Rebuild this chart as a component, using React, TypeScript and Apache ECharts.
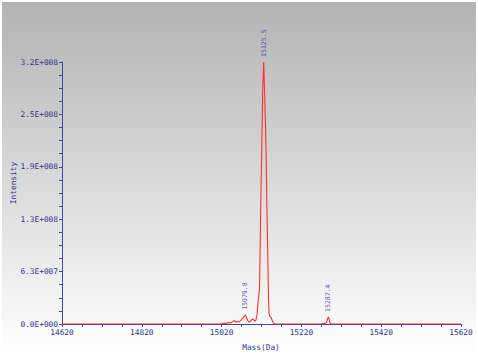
import React, { useEffect, useRef } from "react";
import * as echarts from "echarts";

// Spectrum (mass in Da, intensity in counts)
const massDa = [
  14620, 15018, 15022, 15027, 15032, 15037, 15042, 15047, 15052, 15056,
  15060, 15064, 15068, 15072, 15076, 15079.8, 15083, 15087, 15091, 15095,
  15099, 15103, 15106, 15109, 15111, 15113, 15115, 15116.5, 15118, 15120.5,
  15123, 15125.5, 15128, 15131.5, 15133, 15135.5, 15137.5, 15139, 15141, 15144,
  15147, 15150, 15153, 15268, 15274, 15280, 15283, 15285.5, 15287.4, 15289.5,
  15291.5, 15294, 15298, 15620,
];
const intensity = [
  0, 0, 0.5e6, 1.0e6, 0.6e6, 1.8e6, 1.2e6, 2.5e6, 4.2e6, 2.2e6,
  3.0e6, 2.5e6, 4.0e6, 6.5e6, 9.0e6, 11e6, 7.0e6, 3.0e6, 2.5e6, 5.0e6,
  6.0e6, 3.5e6, 4.5e6, 12e6, 24e6, 33e6, 42e6, 89e6, 140e6, 208e6,
  280e6, 315e6, 275e6, 208e6, 157e6, 89e6, 30e6, 12e6, 9.0e6, 8.0e6,
  4.0e6, 1.0e6, 0, 0, 0.4e6, 0.8e6, 2.0e6, 6.0e6, 8.5e6, 6.0e6,
  1.5e6, 0.3e6, 0, 0,
];

// Labelled peaks
const peakMass = [15079.8, 15125.5, 15287.4];
const peakIntensity = [11e6, 315e6, 8.5e6];
const peakLabels = ["15079.8", "15125.5", "15287.4"];

// Axis ticks
const xTickLabels = ["14620", "14820", "15020", "15220", "15420", "15620"];
const yTickLabels = ["0.0E+000", "6.3E+007", "1.3E+008", "1.9E+008", "2.5E+008", "3.2E+008"];

const TEXT = "#33338f";
const AXIS = "#4545a3";
const FONT = "DejaVu Sans Mono";

export default function App() {
  const ref = useRef<HTMLDivElement>(null);

  useEffect(() => {
    if (!ref.current) return;
    const chart = echarts.init(ref.current, undefined, { renderer: "svg" });
    const lineData = massDa.map((m, i) => [m, intensity[i]]);
    const peakData = peakMass.map((m, i) => ({ value: [m, peakIntensity[i]], name: peakLabels[i] }));

    chart.setOption({
      animation: false,
      backgroundColor: "#ffffff",
      graphic: [
        {
          type: "rect",
          z: -10,
          silent: true,
          shape: { x: 2, y: 2, width: 474, height: 354 },
          style: {
            fill: new echarts.graphic.LinearGradient(0, 0, 0, 1, [
              { offset: 0, color: "#b3b3b3" },
              { offset: 1, color: "#ffffff" },
            ]),
          },
        },
        {
          type: "text",
          x: 13,
          y: 183,
          rotation: Math.PI / 2,
          style: {
            text: "Intensity",
            fill: TEXT,
            font: `7.8px "${FONT}"`,
            align: "center",
            verticalAlign: "middle",
          },
        },
        {
          type: "text",
          x: 261,
          y: 347,
          style: {
            text: "Mass(Da)",
            fill: TEXT,
            font: `7.8px "${FONT}"`,
            align: "center",
            verticalAlign: "middle",
          },
        },
      ],
      grid: { left: 62, right: 17, top: 62, bottom: 36, containLabel: false },
      xAxis: {
        type: "value",
        min: 14620,
        max: 15620,
        interval: 200,
        axisLine: { show: true, lineStyle: { color: AXIS, width: 1 } },
        axisTick: { show: true, length: 3, lineStyle: { color: AXIS } },
        minorTick: { show: true, splitNumber: 4, length: 3, lineStyle: { color: AXIS } },
        splitLine: { show: false },
        axisLabel: {
          color: TEXT,
          fontFamily: FONT,
          fontSize: 7.8,
          margin: 4,
          formatter: (_v: number, i: number) => xTickLabels[i] ?? "",
        },
      },
      yAxis: {
        type: "value",
        min: 0,
        max: 315000000,
        interval: 63000000,
        axisLine: { show: true, lineStyle: { color: AXIS, width: 1 } },
        axisTick: { show: true, length: 3, lineStyle: { color: AXIS } },
        minorTick: { show: true, splitNumber: 4, length: 3, lineStyle: { color: AXIS } },
        splitLine: { show: false },
        axisLabel: {
          color: TEXT,
          fontFamily: FONT,
          fontSize: 7.8,
          margin: 4,
          formatter: (_v: number, i: number) => yTickLabels[i] ?? "",
        },
      },
      series: [
        {
          type: "line",
          data: lineData,
          showSymbol: false,
          symbol: "none",
          z: 5,
          lineStyle: { color: "#ff2f2f", width: 1.1 },
        },
        {
          type: "scatter",
          data: peakData,
          symbol: "circle",
          symbolSize: 0.1,
          itemStyle: { color: "rgba(0,0,0,0)" },
          z: 6,
          label: {
            show: true,
            position: "top",
            distance: 5,
            rotate: 90,
            align: "left",
            verticalAlign: "middle",
            color: TEXT,
            fontFamily: FONT,
            fontSize: 6.5,
            formatter: (p: any) => p.name,
          },
        },
      ],
    });

    return () => chart.dispose();
  }, []);

  return (
    <div
      ref={ref}
      style={{ position: "absolute", left: 0, top: 0, width: 478, height: 360 }}
    />
  );
}
